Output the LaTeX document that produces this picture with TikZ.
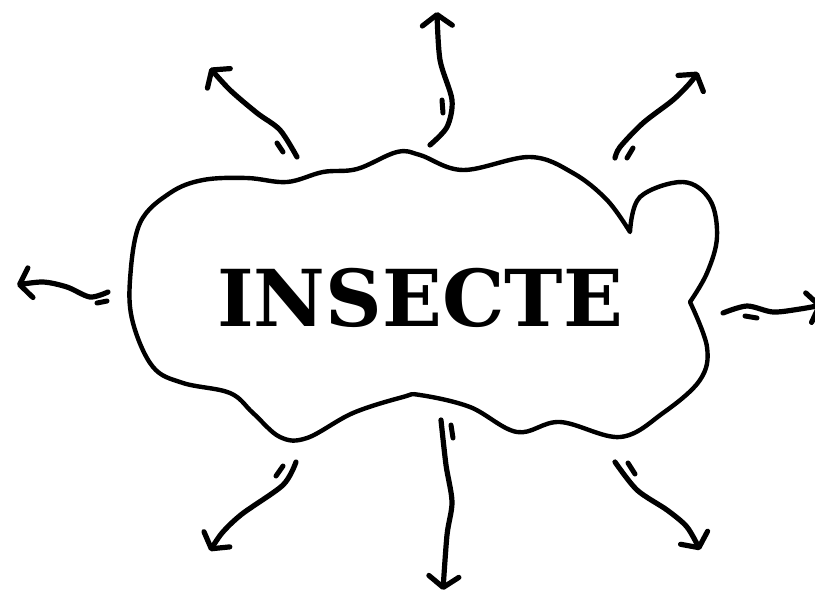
\documentclass[tikz,border=0pt]{standalone}
\usepackage{fontspec}
\setmainfont{DejaVu Serif}
\usetikzlibrary{arrows.meta}

\begin{document}
\begin{tikzpicture}[
    x=1pt, y=-1pt,
    cloud/.style={draw=black, line width=4.4pt, line join=round},
    title/.style={font=\fontsize{78.5}{90}\selectfont\bfseries, inner sep=0pt},
    ray/.style={line width=5.2pt, line cap=round, -{Straight Barb[length=11pt, width=30pt, round]}},
    tick/.style={line width=5pt, line cap=round}
]
    \path[use as bounding box, fill=white] (0,0) rectangle (815,595);
    \clip (0,0) rectangle (815,595);

    \draw[cloud] plot[smooth, tension=0.6] coordinates {(630,232) (640,197) (683,182) (710,200) (717,237) (707,273) (690,302)}
        -- plot[smooth, tension=0.6] coordinates {(690,302) (707,347) (700,380) (663,413) (620,437) (560,422) (517,432) (470,407) (420,395) (403,397) (353,413) (307,438) (280,437) (253,413) (230,393) (183,383) (153,367) (133,323) (130,280) (140,223) (170,193) (203,180) (247,178) (287,182) (323,172) (357,169) (397,152) (420,155) (463,170) (530,157) (573,173) (607,200) (630,232)}
        -- cycle;

    \node[title] (insecte) at (420,298) {INSECTE};

    \coordinate (n-s) at (430,145);  \coordinate (n-e) at (437,12);
    \coordinate (nw-s) at (297,157); \coordinate (nw-e) at (210,68);
    \coordinate (ne-s) at (615,158); \coordinate (ne-e) at (698,72);
    \coordinate (w-s) at (108,292);  \coordinate (w-e) at (17,285);
    \coordinate (e-s) at (723,313);  \coordinate (e-e) at (822,305);
    \coordinate (sw-s) at (296,462); \coordinate (sw-e) at (210,551);
    \coordinate (s-s) at (441,420);  \coordinate (s-e) at (443,590);
    \coordinate (se-s) at (615,462); \coordinate (se-e) at (700,550);

    \draw[ray] plot[smooth] coordinates {(n-s) (447,127) (452,100) (440,60) (n-e)};
    \draw[ray] plot[smooth] coordinates {(nw-s) (280,130) (257,113) (230,90) (nw-e)};
    \draw[ray] plot[smooth] coordinates {(ne-s) (620,147) (643,123) (673,100) (690,83) (ne-e)};
    \draw[ray] plot[smooth] coordinates {(w-s) (90,297) (67,287) (43,282) (w-e)};
    \draw[ray] plot[smooth] coordinates {(e-s) (747,306) (773,312) (800,309) (e-e)};
    \draw[ray] plot[smooth] coordinates {(sw-s) (283,485) (242,514) (222,533) (sw-e)};
    \draw[ray] plot[smooth] coordinates {(s-s) (446,465) (452,502) (447,535) (s-e)};
    \draw[ray] plot[smooth] coordinates {(se-s) (637,490) (667,510) (687,527) (se-e)};

    \draw[tick] (442,100) -- (443,113);
    \draw[tick] (277,143) -- (283,152);
    \draw[tick] (627,158) -- (633,148);
    \draw[tick] (97,303) -- (107,301);
    \draw[tick] (745,316) -- (757,318);
    \draw[tick] (283,466) -- (276,476);
    \draw[tick] (451,425) -- (453,438);
    \draw[tick] (628,463) -- (635,474);
\end{tikzpicture}
\end{document}
